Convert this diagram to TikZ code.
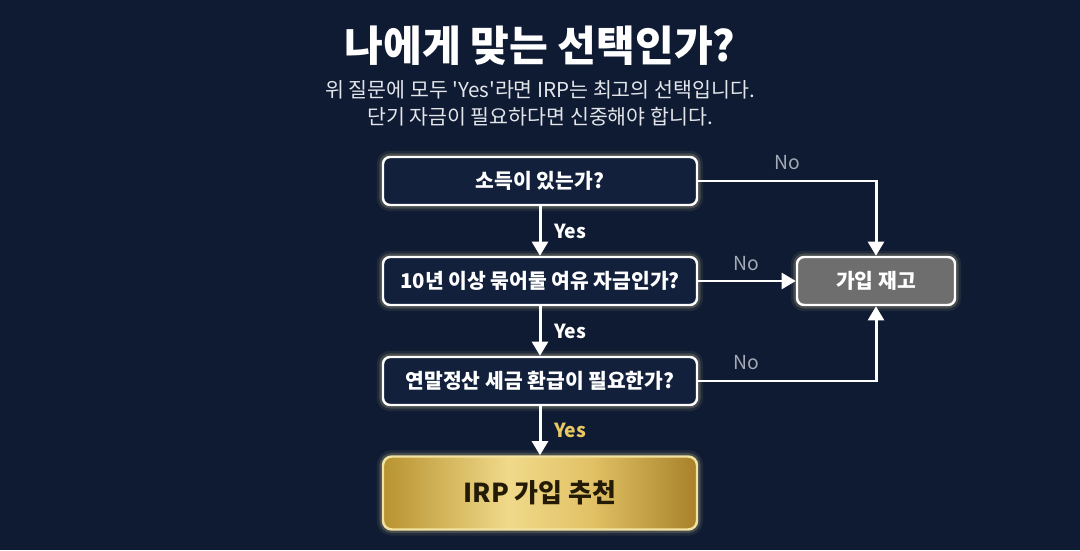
\documentclass[tikz,border=0pt]{standalone}
\usepackage{fontspec}
\setmainfont{Noto Sans CJK KR}
\usetikzlibrary{calc,arrows.meta}
\definecolor{bgnavy}{HTML}{0F1B33}
\definecolor{boxnavy}{HTML}{12203C}
\definecolor{glowy}{HTML}{F3E3A0}
\definecolor{subgray}{HTML}{E2E5EA}
\definecolor{nogray}{HTML}{A3AAB6}
\definecolor{retry}{HTML}{6E6E6E}
\definecolor{goldA}{HTML}{B89330}
\definecolor{goldB}{HTML}{F0D98A}
\definecolor{goldC}{HTML}{E2C266}
\definecolor{goldD}{HTML}{A8812A}
\definecolor{goldtext}{HTML}{E9C862}
\definecolor{darktext}{HTML}{241B06}
\pgfdeclarehorizontalshading{goldbar}{100bp}{
  color(0bp)=(goldA); color(25bp)=(goldA); color(45bp)=(goldB);
  color(58bp)=(goldC); color(75bp)=(goldD); color(100bp)=(goldD)}

\begin{document}
\begin{tikzpicture}[
  glow/.style={preaction={draw=glowy,line width=7pt,opacity=0.08},
               preaction={draw=glowy,line width=4pt,opacity=0.18}},
  qbox/.style={glow,draw=white,line width=1.4pt,rounded corners=4pt,fill=boxnavy,
               minimum width=6.28cm,minimum height=0.96cm,text=white,font=\bfseries\fontsize{11.6}{13}\selectfont},
  flow/.style={-{Triangle[width=9pt,length=8pt]},white,line width=1.7pt},
  yes/.style={right,xshift=4pt,text=white,font=\bfseries\fontsize{11}{13}\selectfont},
  no/.style={text=nogray,font=\fontsize{11}{13}\selectfont}]

  %background
  \fill[bgnavy] (0,0) rectangle (21.6,-11);
  \useasboundingbox (0,0) rectangle (21.6,-11);

  %title
  \node[text=white,font=\bfseries\fontsize{24}{28}\selectfont] (title) at (10.8,-0.92) {나에게 맞는 선택인가?};
  \node[text=subgray,font=\fontsize{11.7}{14}\selectfont] (sub1) at (10.8,-1.8) {위 질문에 모두 \textquotesingle Yes\textquotesingle 라면 IRP는 최고의 선택입니다.};
  \node[text=subgray,font=\fontsize{11.7}{14}\selectfont] (sub2) at (10.8,-2.34) {단기 자금이 필요하다면 신중해야 합니다.};

  %questions
  \node[qbox] (income) at (10.8,-3.62) {소득이 있는가?};
  \node[qbox] (spare) at (10.8,-5.62) {10년 이상 묶어둘 여유 자금인가?};
  \node[qbox] (tax) at (10.8,-7.62) {연말정산 세금 환급이 필요한가?};

  %results
  \node[glow,draw=white,line width=1.4pt,rounded corners=4pt,fill=retry,
        minimum width=3.16cm,minimum height=0.96cm,text=white,
        font=\bfseries\fontsize{11.6}{13}\selectfont] (rethink) at (17.52,-5.62) {가입 재고};
  \node[glow,draw=glowy,line width=1.4pt,rounded corners=5pt,shading=goldbar,
        minimum width=6.28cm,minimum height=1.46cm,text=darktext,
        font=\bfseries\fontsize{14.8}{17}\selectfont] (irp) at (10.8,-9.86) {IRP 가입 추천};

  %yes
  \draw[flow] (income) -- node[yes] {Yes} (spare);
  \draw[flow] (spare) -- node[yes] {Yes} (tax);
  \draw[flow] (tax) -- node[yes,text=goldtext] {Yes} (irp);

  %no
  \draw[flow] (income.east) -| (rethink.north);
  \node[no] (no1) at (15.74,-3.26) {No};
  \draw[flow] (spare) -- (rethink);
  \node[no] (no2) at (14.92,-5.28) {No};
  \draw[flow] (tax.east) -| (rethink.south);
  \node[no] (no3) at (14.92,-7.26) {No};

\end{tikzpicture}
\end{document}
